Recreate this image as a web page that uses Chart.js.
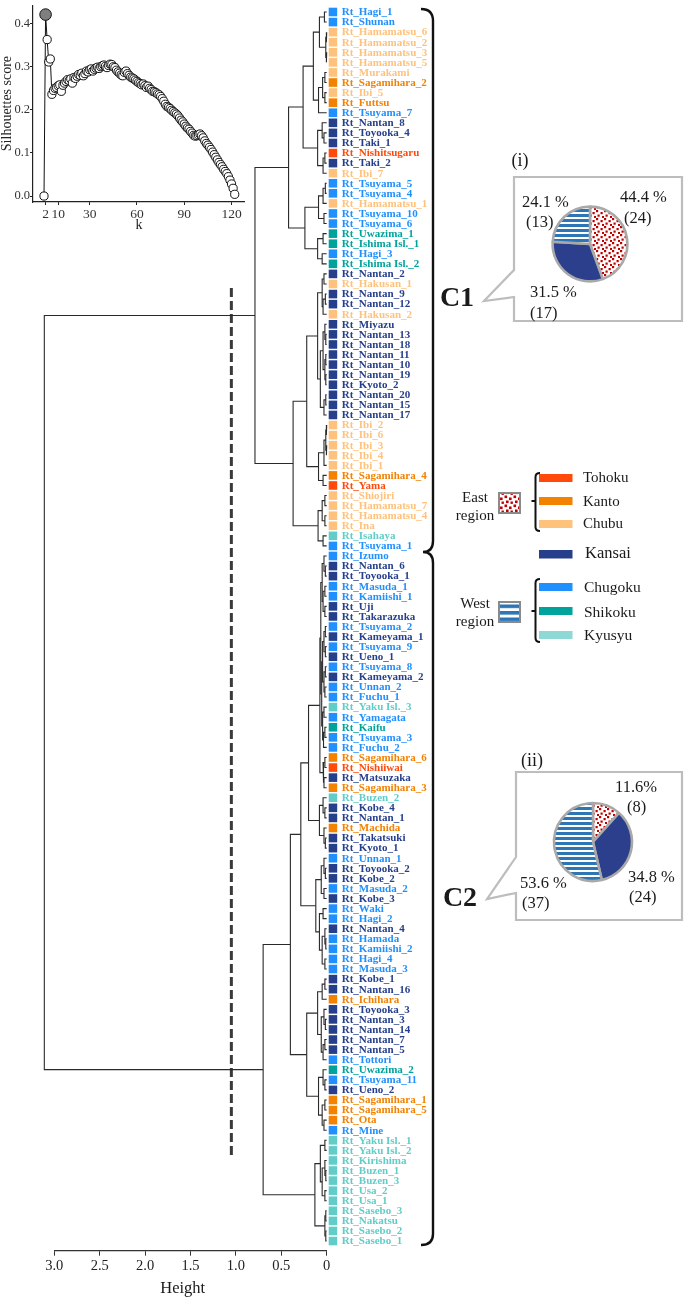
<!DOCTYPE html>
<html>
<head>
<meta charset="utf-8">
<title>Dendrogram</title>
<script src="https://cdn.jsdelivr.net/npm/chart.js@4.4.1/dist/chart.umd.min.js"></script>
<style>
  html, body { margin: 0; padding: 0; background: #fff; }
  #page { position: relative; width: 685px; height: 1298px; overflow: hidden; font-family: "Liberation Serif", serif; color: #1a1a1a; }
  #page canvas, #page svg, .txt { position: absolute; }
  .txt { white-space: nowrap; line-height: 1; transform: translate(-50%, -50%); }
  .lft { transform: translate(0, -50%); }
</style>
</head>
<body>
<div id="page">
  <canvas id="dendro" width="685" height="1298" style="left:0;top:0"></canvas>
  <svg width="685" height="1298" style="left:0;top:0">
    <defs>
      <pattern id="dotsL" width="9" height="9" patternUnits="userSpaceOnUse">
        <rect width="9" height="9" fill="#fff"/>
        <rect x="0.5" y="0.5" width="2.6" height="2.6" fill="#c00000"/>
        <rect x="5" y="2.5" width="2.6" height="2.6" fill="#c00000"/>
        <rect x="2" y="5.5" width="2.6" height="2.6" fill="#c00000"/>
        <rect x="6.5" y="6.5" width="2.4" height="2.4" fill="#c00000"/>
      </pattern>
      <pattern id="stripesL" width="6" height="6.5" patternUnits="userSpaceOnUse">
        <rect width="6" height="6.5" fill="#fff"/>
        <rect y="0" width="6" height="3.6" fill="#2e75b6"/>
      </pattern>
    </defs>
    <!-- callouts -->
    <path d="M514,177 H682 V321 H514 V297 L484,301 L514,270 Z" fill="#fff" stroke="#bdbdbd" stroke-width="2.2"/>
    <path d="M516,772 H682 V920 H516 V893 L487,899 L516,857 Z" fill="#fff" stroke="#bdbdbd" stroke-width="2.2"/>
    <!-- cluster brackets -->
    <path d="M421,9 Q433,9 433,21 V541 Q433,552 423,552 Q433,552 433,563 V1234 Q433,1245 421,1245" fill="none" stroke="#111" stroke-width="2.4"/>
    <!-- legend -->
    <rect x="499" y="493" width="21" height="20" fill="url(#dotsL)" stroke="#8a8a8a" stroke-width="2"/>
    <rect x="499" y="602" width="21" height="20" fill="url(#stripesL)" stroke="#8a8a8a" stroke-width="2"/>
    <path d="M540,473 Q535.5,473 535.5,477 V527 Q535.5,531 540,531 M535.5,501 H531.5" fill="none" stroke="#111" stroke-width="2"/>
    <path d="M540,579 Q535.5,579 535.5,583 V638 Q535.5,642 540,642 M535.5,611 H531.5" fill="none" stroke="#111" stroke-width="2"/>
    <rect x="539" y="474" width="33.5" height="8" fill="#ff4a0c"/>
    <rect x="539" y="497" width="33.5" height="8" fill="#f28200"/>
    <rect x="539" y="520" width="33.5" height="8" fill="#ffc27c"/>
    <rect x="539" y="550" width="33.5" height="8.5" fill="#263f8b"/>
    <rect x="539" y="583" width="33.5" height="8" fill="#2090ff"/>
    <rect x="539" y="607" width="33.5" height="8" fill="#00a39b"/>
    <rect x="539" y="631" width="33.5" height="8" fill="#8ed8d5"/>
  </svg>
  <canvas id="sil" width="250" height="236" style="left:0;top:0"></canvas>
  <canvas id="pie1" width="100" height="100" style="left:540px;top:194px"></canvas>
  <canvas id="pie2" width="100" height="100" style="left:543px;top:792px"></canvas>

  <div class="txt" style="left:182.7px;top:1288px;font-size:16.5px">Height</div>
  <div class="txt" style="left:520px;top:160px;font-size:18px">(i)</div>
  <div class="txt" style="left:532px;top:760px;font-size:18px">(ii)</div>
  <div class="txt" style="left:457px;top:297px;font-size:28px;font-weight:bold">C1</div>
  <div class="txt" style="left:460px;top:897px;font-size:28px;font-weight:bold">C2</div>

  <div class="txt lft" style="left:620px;top:197px;font-size:16.5px">44.4 %</div>
  <div class="txt lft" style="left:624px;top:218px;font-size:16.5px">(24)</div>
  <div class="txt lft" style="left:522px;top:202px;font-size:16.5px">24.1 %</div>
  <div class="txt lft" style="left:526px;top:222px;font-size:16.5px">(13)</div>
  <div class="txt lft" style="left:530px;top:292px;font-size:16.5px">31.5 %</div>
  <div class="txt lft" style="left:530px;top:313px;font-size:16.5px">(17)</div>

  <div class="txt lft" style="left:615px;top:787px;font-size:16.5px">11.6%</div>
  <div class="txt lft" style="left:627px;top:807px;font-size:16.5px">(8)</div>
  <div class="txt lft" style="left:628px;top:877px;font-size:16.5px">34.8 %</div>
  <div class="txt lft" style="left:629px;top:897px;font-size:16.5px">(24)</div>
  <div class="txt lft" style="left:520px;top:883px;font-size:16.5px">53.6 %</div>
  <div class="txt lft" style="left:522px;top:903px;font-size:16.5px">(37)</div>

  <div class="txt" style="left:475px;top:497px;font-size:15px">East</div>
  <div class="txt" style="left:475px;top:515px;font-size:15px">region</div>
  <div class="txt" style="left:475px;top:603px;font-size:15px">West</div>
  <div class="txt" style="left:475px;top:621px;font-size:15px">region</div>
  <div class="txt lft" style="left:583px;top:477px;font-size:15px">Tohoku</div>
  <div class="txt lft" style="left:583px;top:501px;font-size:15px">Kanto</div>
  <div class="txt lft" style="left:583px;top:523px;font-size:15px">Chubu</div>
  <div class="txt lft" style="left:585px;top:553px;font-size:16.5px">Kansai</div>
  <div class="txt lft" style="left:584px;top:587px;font-size:15.5px">Chugoku</div>
  <div class="txt lft" style="left:584px;top:612px;font-size:15.5px">Shikoku</div>
  <div class="txt lft" style="left:584px;top:635px;font-size:15.5px">Kyusyu</div>
</div>

<script>
// ---- data ----
const regionNames = ["Tohoku", "Kanto", "Chubu", "Kansai", "Chugoku", "Shikoku", "Kyusyu"];
const regionColors = ["#ff4a0c", "#f28200", "#ffc27c", "#263f8b", "#2090ff", "#00a39b", "#62cdc8"];

const leafLabels = [
  "Rt_Hagi_1", "Rt_Shunan", "Rt_Hamamatsu_6", "Rt_Hamamatsu_2", "Rt_Hamamatsu_3", "Rt_Hamamatsu_5", "Rt_Murakami", "Rt_Sagamihara_2", "Rt_Ibi_5", "Rt_Futtsu",
  "Rt_Tsuyama_7", "Rt_Nantan_8", "Rt_Toyooka_4", "Rt_Taki_1", "Rt_Nishitsugaru", "Rt_Taki_2", "Rt_Ibi_7", "Rt_Tsuyama_5", "Rt_Tsuyama_4", "Rt_Hamamatsu_1",
  "Rt_Tsuyama_10", "Rt_Tsuyama_6", "Rt_Uwazima_1", "Rt_Ishima Isl._1", "Rt_Hagi_3", "Rt_Ishima Isl._2", "Rt_Nantan_2", "Rt_Hakusan_1", "Rt_Nantan_9", "Rt_Nantan_12",
  "Rt_Hakusan_2", "Rt_Miyazu", "Rt_Nantan_13", "Rt_Nantan_18", "Rt_Nantan_11", "Rt_Nantan_10", "Rt_Nantan_19", "Rt_Kyoto_2", "Rt_Nantan_20", "Rt_Nantan_15",
  "Rt_Nantan_17", "Rt_Ibi_2", "Rt_Ibi_6", "Rt_Ibi_3", "Rt_Ibi_4", "Rt_Ibi_1", "Rt_Sagamihara_4", "Rt_Yama", "Rt_Shiojiri", "Rt_Hamamatsu_7",
  "Rt_Hamamatsu_4", "Rt_Ina", "Rt_Isahaya", "Rt_Tsuyama_1", "Rt_Izumo", "Rt_Nantan_6", "Rt_Toyooka_1", "Rt_Masuda_1", "Rt_Kamiishi_1", "Rt_Uji",
  "Rt_Takarazuka", "Rt_Tsuyama_2", "Rt_Kameyama_1", "Rt_Tsuyama_9", "Rt_Ueno_1", "Rt_Tsuyama_8", "Rt_Kameyama_2", "Rt_Unnan_2", "Rt_Fuchu_1", "Rt_Yaku Isl._3",
  "Rt_Yamagata", "Rt_Kaifu", "Rt_Tsuyama_3", "Rt_Fuchu_2", "Rt_Sagamihara_6", "Rt_Nishiiwai", "Rt_Matsuzaka", "Rt_Sagamihara_3", "Rt_Buzen_2", "Rt_Kobe_4",
  "Rt_Nantan_1", "Rt_Machida", "Rt_Takatsuki", "Rt_Kyoto_1", "Rt_Unnan_1", "Rt_Toyooka_2", "Rt_Kobe_2", "Rt_Masuda_2", "Rt_Kobe_3", "Rt_Waki",
  "Rt_Hagi_2", "Rt_Nantan_4", "Rt_Hamada", "Rt_Kamiishi_2", "Rt_Hagi_4", "Rt_Masuda_3", "Rt_Kobe_1", "Rt_Nantan_16", "Rt_Ichihara", "Rt_Toyooka_3",
  "Rt_Nantan_3", "Rt_Nantan_14", "Rt_Nantan_7", "Rt_Nantan_5", "Rt_Tottori", "Rt_Uwazima_2", "Rt_Tsuyama_11", "Rt_Ueno_2", "Rt_Sagamihara_1", "Rt_Sagamihara_5",
  "Rt_Ota", "Rt_Mine", "Rt_Yaku Isl._1", "Rt_Yaku Isl._2", "Rt_Kirishima", "Rt_Buzen_1", "Rt_Buzen_3", "Rt_Usa_2", "Rt_Usa_1", "Rt_Sasebo_3",
  "Rt_Nakatsu", "Rt_Sasebo_2", "Rt_Sasebo_1"
];

// index into regionNames for every leaf
const leafRegions = [
  4, 4, 2, 2, 2, 2, 2, 1, 2, 1,
  4, 3, 3, 3, 0, 3, 2, 4, 4, 2,
  4, 4, 5, 5, 4, 5, 3, 2, 3, 3,
  2, 3, 3, 3, 3, 3, 3, 3, 3, 3,
  3, 2, 2, 2, 2, 2, 1, 0, 2, 2,
  2, 2, 6, 4, 4, 3, 3, 4, 4, 3,
  3, 4, 3, 4, 3, 4, 3, 4, 4, 6,
  4, 5, 4, 4, 1, 0, 3, 1, 6, 3,
  3, 1, 3, 3, 4, 3, 3, 4, 3, 4,
  4, 3, 4, 4, 4, 4, 3, 3, 1, 3,
  3, 3, 3, 3, 4, 5, 4, 3, 1, 1,
  1, 4, 6, 6, 6, 6, 6, 6, 6, 6,
  6, 6, 6
];

// merge trees: [height, left, right], numbers are leaf indices
const c1Tree =
  [0.79,
    [0.42,
      [0.26,
        [0.147,
          [0.08, [0.025, 0, 1], [0.01, [0.005, 2, 3], [0.005, 4, 5]]],
          [0.09, [0.045, [0.02, 6, 7], [0.02, 8, 9]], 10]],
        [0.10, [0.05, 11, [0.03, 12, 13]], [0.04, [0.02, 14, 15], 16]]],
      [0.24,
        [0.09, [0.04, [0.015, 17, 18], 19], [0.03, 20, 21]],
        [0.10, [0.04, 22, 23], [0.05, 24, 25]]]],
    [0.37,
      [0.22,
        [0.10,
          [0.05, [0.03, 26, 27], [0.04, [0.015, 28, 29], 30]],
          [0.07,
            [0.04, [0.02, 31, [0.01, 32, 33]], [0.02, [0.01, 34, 35], [0.01, 36, 37]]],
            [0.03, [0.01, 38, 39], 40]]],
        [0.09, [0.03, [0.01, [0.005, 41, 42], [0.005, 43, 44]], 45], [0.04, 46, 47]]],
      [0.095, [0.05, [0.02, 48, 49], [0.02, 50, 51]], [0.04, 52, 53]]]];

const c2Tree =
  [0.70,
    [0.40,
      [0.285,
        [0.20,
          [0.075,
            [0.065,
              [0.05, [0.03, 54, [0.015, 55, 56]], [0.04, [0.02, 57, 58], [0.02, 59, 60]]],
              [0.055,
                [0.045, [0.03, [0.015, 61, 62], [0.015, 63, 64]], [0.03, [0.015, 65, 66], [0.02, 67, 68]]],
                [0.045, [0.03, 69, 70], [0.035, [0.02, 71, 72], 73]]]],
            [0.04, [0.02, 74, 75], [0.03, 76, 77]]],
          [0.08, [0.04, 78, [0.02, 79, 80]], [0.03, 81, [0.015, 82, 83]]]],
        [0.12,
          [0.06, [0.03, 84, [0.015, 85, 86]], [0.03, 87, 88]],
          [0.08, [0.04, 89, 90], [0.05, [0.02, 91, [0.01, 92, 93]], [0.02, 94, 95]]]]],
      [0.22,
        [0.10, [0.05, [0.02, 96, 97], 98], [0.06, [0.03, 99, [0.015, 100, 101]], [0.04, [0.02, 102, 103], 104]]],
        [0.09, [0.04, 105, [0.02, 106, 107]], [0.05, [0.02, 108, 109], [0.03, 110, 111]]]]],
    [0.13,
      [0.07, [0.02, 112, 113], [0.05, [0.02, 114, [0.01, 115, 116]], [0.02, 117, 118]]],
      [0.02, [0.01, 119, 120], [0.01, 121, 122]]]];

const rootHeight = 3.11;
const heightTicks = [0, 0.5, 1, 1.5, 2, 2.5, 3];
const cutHeight = 1.05;          // dashed cut line
const cutSpan = [27.4, 113.7];   // leaf-index range it covers

// silhouette inset: score for k = 1, 2, 3, ...
const silScore = [
  0.000, 0.421, 0.363, 0.311, 0.318, 0.236, 0.245, 0.250, 0.252, 0.256,
  0.258, 0.243, 0.257, 0.262, 0.266, 0.270, 0.268, 0.272, 0.262, 0.275,
  0.273, 0.278, 0.282, 0.280, 0.285, 0.279, 0.284, 0.290, 0.288, 0.293,
  0.295, 0.290, 0.294, 0.297, 0.299, 0.296, 0.300, 0.302, 0.304, 0.301,
  0.298, 0.303, 0.306, 0.305, 0.300, 0.298, 0.292, 0.288, 0.285, 0.281,
  0.279, 0.287, 0.290, 0.284, 0.280, 0.276, 0.274, 0.272, 0.269, 0.266,
  0.263, 0.261, 0.258, 0.260, 0.256, 0.252, 0.255, 0.250, 0.247, 0.243,
  0.242, 0.240, 0.237, 0.235, 0.231, 0.226, 0.220, 0.213, 0.208, 0.206,
  0.203, 0.199, 0.196, 0.193, 0.190, 0.186, 0.181, 0.176, 0.172, 0.167,
  0.162, 0.158, 0.155, 0.150, 0.146, 0.141, 0.139, 0.140, 0.142, 0.144,
  0.140, 0.135, 0.128, 0.122, 0.118, 0.113, 0.108, 0.102, 0.096, 0.090,
  0.084, 0.078, 0.073, 0.068, 0.062, 0.057, 0.052, 0.045, 0.037, 0.028,
  0.018, 0.004
];
const silK = silScore.map((_, i) => i + 1);
const bestK = 2;
const silXTicks = [2, 10, 30, 60, 90, 120];
const silYTicks = [0, 0.1, 0.2, 0.3, 0.4];

// pies: East region, Kansai, West region
const pieGroups = ["East region", "Kansai", "West region"];
const c1Counts = [24, 17, 13];
const c2Counts = [8, 24, 37];

Chart.defaults.font.family = '"Liberation Serif", serif';
Chart.defaults.color = "#1a1a1a";

// ---- dendrogram ----
const dendroSets = [];
function placeNode(node) {
  if (typeof node === "number") return { y: node, h: 0 };
  const [h, a, b] = node;
  const A = placeNode(a);
  const B = placeNode(b);
  dendroSets.push({
    data: [{ x: A.h, y: A.y }, { x: h, y: A.y }, { x: h, y: B.y }, { x: B.h, y: B.y }],
    showLine: true,
    borderColor: "#2a2a2a",
    borderWidth: 1.1,
    pointRadius: 0,
    pointHoverRadius: 0,
    clip: false
  });
  return { y: (A.y + B.y) / 2, h };
}
placeNode([rootHeight, c1Tree, c2Tree]);

dendroSets.push({
  data: [{ x: cutHeight, y: cutSpan[0] }, { x: cutHeight, y: cutSpan[1] }],
  showLine: true,
  borderColor: "#3a3a3a",
  borderWidth: 3,
  borderDash: [9, 4],
  pointRadius: 0,
  clip: false
});

const leafPlugin = {
  id: "leafLabels",
  afterDatasetsDraw(chart) {
    const { ctx, scales } = chart;
    const x0 = scales.x.getPixelForValue(0);
    ctx.save();
    ctx.font = 'bold 11px "Liberation Serif"';
    ctx.textBaseline = "middle";
    ctx.textAlign = "left";
    leafLabels.forEach((lab, i) => {
      const py = scales.y.getPixelForValue(i);
      ctx.fillStyle = regionColors[leafRegions[i]];
      ctx.fillRect(x0 + 2, py - 4.3, 8.5, 8.6);
      ctx.fillText(lab, x0 + 15, py + 0.5);
    });
    ctx.restore();
  }
};

new Chart(document.getElementById("dendro"), {
  type: "scatter",
  data: { datasets: dendroSets },
  options: {
    responsive: false,
    animation: false,
    devicePixelRatio: 1,
    layout: { padding: { left: 54.3, right: 358.3, top: 0, bottom: 0 } },
    plugins: { legend: { display: false }, tooltip: { enabled: false } },
    scales: {
      x: {
        type: "linear",
        reverse: true,
        min: 0,
        max: 3,
        afterBuildTicks: (ax) => { ax.ticks = heightTicks.map((v) => ({ value: v })); },
        afterFit: (ax) => { ax.height = 47.3; },
        grid: { drawOnChartArea: false, tickLength: 5, color: "#333" },
        border: { color: "#333", width: 1.2 },
        ticks: {
          autoSkip: false,
          maxRotation: 0,
          padding: 2,
          color: "#222",
          font: { size: 14.5 },
          callback: (v) => (v === 0 ? "0" : Number(v).toFixed(1))
        }
      },
      y: { type: "linear", reverse: true, min: -1.191, max: 122.96, display: false }
    }
  },
  plugins: [leafPlugin]
});

// ---- silhouette inset ----
new Chart(document.getElementById("sil"), {
  type: "scatter",
  data: {
    datasets: [{
      data: silScore.map((s, i) => ({ x: silK[i], y: s })),
      showLine: true,
      borderColor: "#111",
      borderWidth: 1,
      pointRadius: (c) => (silK[c.dataIndex] === bestK ? 5.8 : 4.1),
      pointBackgroundColor: (c) => (silK[c.dataIndex] === bestK ? "#7f7f7f" : "#fff"),
      pointBorderColor: "#111",
      pointBorderWidth: 1
    }]
  },
  options: {
    responsive: false,
    animation: false,
    devicePixelRatio: 1,
    layout: { padding: { top: 3, right: 3, left: 0, bottom: 0 } },
    plugins: { legend: { display: false }, tooltip: { enabled: false } },
    scales: {
      x: {
        type: "linear",
        min: -5.98,
        max: 128.47,
        afterBuildTicks: (ax) => { ax.ticks = silXTicks.map((v) => ({ value: v })); },
        afterFit: (ax) => { ax.height = 34; ax.paddingLeft = 0; ax.paddingRight = 0; },
        grid: { drawOnChartArea: false, tickLength: 3, color: "#222" },
        border: { color: "#222", width: 1.2 },
        ticks: { autoSkip: false, maxRotation: 0, padding: 1, color: "#333", font: { size: 13.5 } },
        title: { display: true, text: "k", color: "#222", font: { size: 14 }, padding: { top: 0, bottom: 2 } }
      },
      y: {
        type: "linear",
        min: -0.0138,
        max: 0.443,
        afterBuildTicks: (ax) => { ax.ticks = silYTicks.map((v) => ({ value: v })); },
        afterFit: (ax) => { ax.width = 33; ax.paddingTop = 0; ax.paddingBottom = 0; },
        grid: { drawOnChartArea: false, tickLength: 3, color: "#222" },
        border: { color: "#222", width: 1.2 },
        ticks: { padding: 0, color: "#333", font: { size: 12.5 }, callback: (v) => Number(v).toFixed(1) },
        title: { display: true, text: "Silhouettes score", color: "#222", font: { size: 14, lineHeight: 1.05 }, padding: { top: 0, bottom: 0 } }
      }
    }
  }
});

// ---- pies ----
function dotPattern() {
  const c = document.createElement("canvas");
  c.width = 8; c.height = 8;
  const g = c.getContext("2d");
  g.fillStyle = "#fff"; g.fillRect(0, 0, 8, 8);
  g.fillStyle = "#c00000";
  [[0, 0], [4.5, 2], [1.5, 4.5], [6, 6]].forEach(([x, y]) => g.fillRect(x, y, 2.2, 2.2));
  return g.createPattern(c, "repeat");
}
function stripePattern() {
  const c = document.createElement("canvas");
  c.width = 5; c.height = 5;
  const g = c.getContext("2d");
  g.fillStyle = "#fff"; g.fillRect(0, 0, 5, 5);
  g.fillStyle = "#2e75b6"; g.fillRect(0, 0, 5, 3);
  return g.createPattern(c, "repeat");
}

function drawPie(id, counts, radius) {
  const ctx = document.getElementById(id).getContext("2d");
  new Chart(ctx, {
    type: "pie",
    data: {
      labels: pieGroups,
      datasets: [{
        data: counts,
        backgroundColor: [dotPattern(), "#2b3f8c", stripePattern()],
        borderColor: "#a9a9a9",
        borderWidth: 2.6,
        radius: radius
      }]
    },
    options: {
      responsive: false,
      animation: false,
      devicePixelRatio: 1,
      plugins: { legend: { display: false }, tooltip: { enabled: false } }
    }
  });
}
drawPie("pie1", c1Counts, 37.4);
drawPie("pie2", c2Counts, 39);
</script>
</body>
</html>
